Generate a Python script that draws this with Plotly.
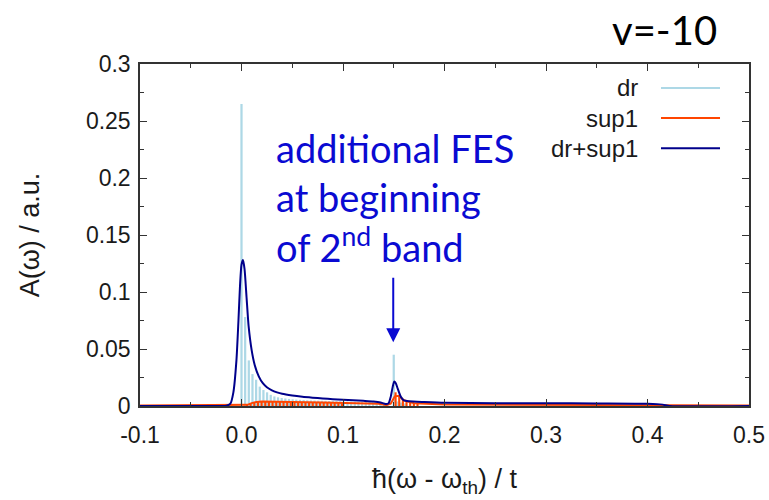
import plotly.graph_objects as go

# ---- spectral data -------------------------------------------------------
# dr: discrete spectral weights (impulses)
dr_x = [0.0, 0.0036, 0.0072, 0.0108, 0.0144, 0.018, 0.0216, 0.0252, 0.0288, 0.0324,
        0.036, 0.0396, 0.0432, 0.0468, 0.0504, 0.054, 0.0576, 0.0612, 0.0648, 0.0684,
        0.072, 0.0756, 0.0792, 0.0828, 0.0864, 0.09, 0.0936, 0.0972, 0.1008, 0.1044,
        0.108, 0.1116, 0.1152, 0.1188, 0.1224, 0.126, 0.1296, 0.1332, 0.1368, 0.1404,
        0.150, 0.1536, 0.1572, 0.1608]
dr_y = [0.265, 0.078, 0.040, 0.028, 0.023, 0.017, 0.014, 0.012, 0.0098, 0.0084,
        0.0076, 0.0070, 0.0066, 0.0062, 0.0059, 0.0056, 0.0054, 0.0052, 0.0050, 0.0049,
        0.0048, 0.0047, 0.0046, 0.0045, 0.0044, 0.0043, 0.0042, 0.0041, 0.0040, 0.0039,
        0.0038, 0.0037, 0.0036, 0.0035, 0.0034, 0.0033, 0.0030, 0.0026, 0.0020, 0.0012,
        0.045, 0.0040, 0.0030, 0.0022]

# sup1: discrete weights
sup_x = [0.0054, 0.009, 0.0126, 0.0162, 0.0198, 0.0234, 0.027, 0.0306, 0.0342, 0.0378,
         0.0414, 0.045, 0.0486, 0.0522, 0.0558, 0.0594, 0.063, 0.0666, 0.0702, 0.0738,
         0.0774, 0.081, 0.0846, 0.0882, 0.0918, 0.0954, 0.099, 0.1518, 0.1554, 0.159,
         0.1626, 0.1662, 0.1698, 0.1734]
sup_y = [0.0008, 0.0022, 0.0034, 0.0040, 0.0042, 0.0042, 0.0041, 0.0040, 0.0039, 0.0038,
         0.0037, 0.0036, 0.0035, 0.0034, 0.0033, 0.0032, 0.0031, 0.0031, 0.0030, 0.0029,
         0.0028, 0.0028, 0.0027, 0.0026, 0.0026, 0.0025, 0.0024, 0.0120, 0.0090, 0.0060,
         0.0040, 0.0030, 0.0022, 0.0018]

# sup1: broadened curve
sup_line_x = [-0.1, 0.003, 0.006, 0.01, 0.015, 0.02, 0.03, 0.05, 0.08, 0.11, 0.135,
              0.143, 0.147, 0.151, 0.155, 0.16, 0.17, 0.2, 0.3, 0.4, 0.42, 0.43, 0.5]
sup_line_y = [0.0004, 0.0004, 0.0010, 0.0025, 0.0036, 0.0040, 0.0040, 0.0035, 0.0030, 0.0025, 0.0019,
              0.0008, 0.0020, 0.0085, 0.0090, 0.0050, 0.0025, 0.0014, 0.0011, 0.0008, 0.0005, 0.0004,
              0.0004]

# dr+sup1: broadened total spectrum
tot_x = [-0.1, -0.03, -0.015, -0.011, -0.008, -0.005, -0.003, -0.0015, 0.0, 0.0015,
         0.003, 0.005, 0.007, 0.01, 0.013, 0.017, 0.021, 0.025, 0.03, 0.035,
         0.04, 0.05, 0.06, 0.07, 0.08, 0.09, 0.1, 0.11, 0.12, 0.13,
         0.137, 0.142, 0.145, 0.147, 0.149, 0.1505, 0.152, 0.154, 0.157, 0.16,
         0.165, 0.18, 0.2, 0.25, 0.3, 0.35, 0.4, 0.415, 0.422, 0.5]
tot_y = [0.0, 0.0, 0.0003, 0.002, 0.012, 0.040, 0.075, 0.105, 0.124, 0.128,
         0.120, 0.095, 0.070, 0.049, 0.036, 0.026, 0.020, 0.0165, 0.0138, 0.012,
         0.0107, 0.0092, 0.0081, 0.0073, 0.0066, 0.0060, 0.0055, 0.0050, 0.0045, 0.0039,
         0.0031, 0.0018, 0.0025, 0.0080, 0.0170, 0.0215, 0.0200, 0.0150, 0.0080, 0.0050,
         0.0042, 0.0035, 0.0028, 0.0025, 0.0024, 0.0022, 0.0019, 0.0012, 0.0, 0.0]

x_ticks = [-0.1, 0.0, 0.1, 0.2, 0.3, 0.4, 0.5]
x_ticktext = ["-0.1", "0.0", "0.1", "0.2", "0.3", "0.4", "0.5"]
y_ticks = [0, 0.05, 0.1, 0.15, 0.2, 0.25, 0.3]
y_ticktext = ["0", "0.05", "0.1", "0.15", "0.2", "0.25", "0.3"]

series_names = ["dr", "sup1", "dr+sup1"]
series_colors = ["#add8e6", "#ff4500", "#00008b"]

# ---- figure --------------------------------------------------------------
fig = go.Figure()
fig.add_trace(go.Bar(x=dr_x, y=dr_y, width=0.0022, marker=dict(color=series_colors[0], line=dict(width=0)),
                     showlegend=False))
fig.add_trace(go.Bar(x=sup_x, y=sup_y, width=0.0021, marker=dict(color=series_colors[1], line=dict(width=0)),
                     showlegend=False))
fig.add_trace(go.Scatter(x=sup_line_x, y=sup_line_y, mode="lines",
                         line=dict(color=series_colors[1], width=2), showlegend=False))
fig.add_trace(go.Scatter(x=tot_x, y=tot_y, mode="lines",
                         line=dict(color=series_colors[2], width=2, shape="spline", smoothing=0.6),
                         showlegend=False))

tick_font = dict(family="Liberation Sans, Arial", size=23, color="#1a1a1a")
title_font = dict(family="Liberation Sans, Arial", size=27, color="#1a1a1a")
axis_common = dict(showline=True, linecolor="#333333", linewidth=1.5, mirror="allticks",
                   ticks="inside", ticklen=7, tickwidth=1.2, tickcolor="#333333",
                   showgrid=False, zeroline=False, tickfont=tick_font, automargin=False)

fig.update_layout(
    width=769, height=500,
    margin=dict(l=140, r=20, t=64, b=94),
    paper_bgcolor="white", plot_bgcolor="white",
    barmode="overlay",
    showlegend=False,
    xaxis=dict(range=[-0.1, 0.5], tickvals=x_ticks, ticktext=x_ticktext, ticklabelstandoff=8,
               minor=dict(dtick=0.05, tick0=-0.1, ticks="inside", ticklen=4, tickcolor="#333333"),
               title=dict(text="ħ(ω - ω<sub>th</sub>) / t", font=title_font, standoff=22),
               **axis_common),
    yaxis=dict(range=[0, 0.3], tickvals=y_ticks, ticktext=y_ticktext, ticklabelstandoff=3,
               minor=dict(dtick=0.025, tick0=0, ticks="inside", ticklen=4, tickcolor="#333333"),
               title=dict(text="A(ω) / a.u.", font=title_font, standoff=38),
               **axis_common),
)

# key drawn at the upper right, labels right-aligned with line samples after them
key_y = [0.93, 0.842, 0.754]
for name, color, ky in zip(series_names, series_colors, key_y):
    fig.add_annotation(xref="paper", yref="paper", x=0.821, y=ky, text=name, showarrow=False,
                       xanchor="right", yanchor="middle",
                       font=dict(family="Liberation Sans, Arial", size=24, color="#1a1a1a"))
    fig.add_shape(type="line", xref="paper", yref="paper", x0=0.8555, x1=0.9524, y0=ky, y1=ky,
                  line=dict(color=color, width=2))

# explanatory note with arrow to the second-band edge
note_font = dict(family="Lato, Noto Sans", size=38, color="#0a0ad2")
fig.add_annotation(xref="paper", yref="paper", x=(274 - 140) / 609, y=(406 - 123) / 342,
                   text="additional FES<br>at beginning<br>of 2<sup>nd</sup> band", showarrow=False,
                   xanchor="left", yanchor="top", align="left", font=note_font)
fig.add_annotation(x=0.1495, y=0.056, xref="x", yref="y", text="", showarrow=True,
                   ax=0, ay=-66, arrowhead=2, arrowsize=1.4, arrowwidth=2, arrowcolor="#0a0ad2")

fig.add_annotation(xref="paper", yref="paper", x=(664 - 140) / 609, y=(406 - 30) / 342,
                   text="v=-10", showarrow=False, xanchor="center", yanchor="middle",
                   font=dict(family="Lato, Noto Sans", size=40, color="#000000"))

fig.write_html("out.html")
